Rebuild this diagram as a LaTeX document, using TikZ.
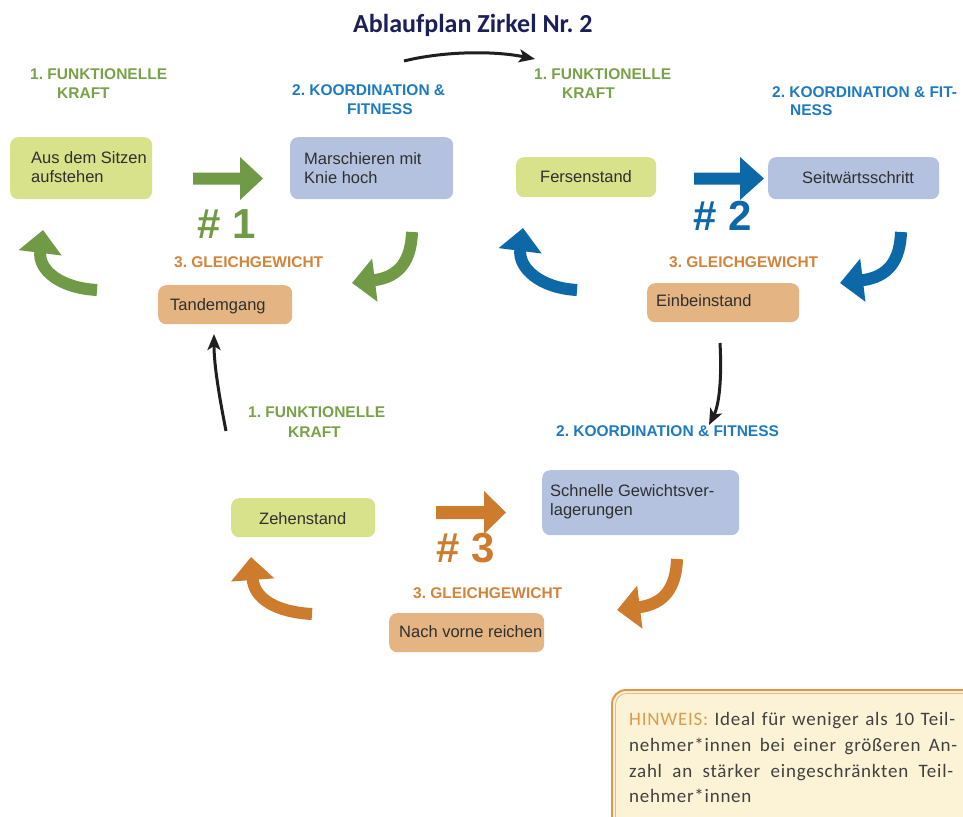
\documentclass[tikz,border=0pt]{standalone}
\usepackage{fontspec}
\setmainfont{Liberation Sans}
\newfontfamily\calibri{Carlito}
\newfontfamily\calibrisp[LetterSpace=4]{Carlito}
\usetikzlibrary{arrows.meta}
\frenchspacing
\definecolor{gbox}{HTML}{D8E28A}
\definecolor{bbox}{HTML}{B4C2DF}
\definecolor{tbox}{HTML}{E4B583}
\definecolor{garrow}{HTML}{709A46}
\definecolor{barrow}{HTML}{0D68A8}
\definecolor{oarrow}{HTML}{CD7C2E}
\definecolor{glabel}{HTML}{78A247}
\definecolor{blabel}{HTML}{1E7BC0}
\definecolor{olabel}{HTML}{D3843A}
\definecolor{navy}{HTML}{1B2058}
\definecolor{boxtext}{HTML}{2F2F2F}
\definecolor{hintfill}{HTML}{FCF3D6}
\definecolor{hintline}{HTML}{DB9A50}
\definecolor{hinttext}{HTML}{404040}
\tikzset{
 box/.style={rounded corners=8pt, inner sep=0pt, anchor=north west},
 boxtxt/.style={anchor=base west, inner sep=0pt, text=boxtext, font=\fontsize{16.5}{20}\selectfont},
 lbl/.style={anchor=base west, inner sep=0pt, font=\bfseries\fontsize{15.5}{19}\selectfont},
 num/.style={anchor=base west, inner sep=0pt, font=\bfseries\fontsize{42}{48}\selectfont},
 curvearrow/.style={line width=12pt, -{Triangle[width=42pt,length=23pt]}},
 blackarrow/.style={line width=3pt, draw=black!88, -{Stealth[length=16pt,width=13pt,inset=4pt]}},
 hinttxt/.style={anchor=base west, inner sep=0pt, text=hinttext, font=\calibrisp\fontsize{19}{26}\selectfont},
}
\begin{document}
\frenchspacing
\begin{tikzpicture}[x=1pt,y=-1pt]
\useasboundingbox (0,0) rectangle (963,816);
\fill[white] (0,0) rectangle (963,816);

% title
\node[anchor=base west, inner sep=0pt, text=navy, font=\calibri\bfseries\fontsize{26}{30}\selectfont] (title) at (353,33) {Ablaufplan Zirkel Nr. 2};
\coordinate (ts) at (404,61);
\coordinate (te) at (535,59);
\draw[blackarrow] (ts) .. controls (440,52) and (490,50) .. (te);

% ---------- cluster 1 ----------
\node[lbl, text=glabel] (l1a) at (30,79) {1. FUNKTIONELLE};
\node[lbl, text=glabel] (l1b) at (57,98) {KRAFT};
\node[lbl, text=blabel] (l1c) at (292,95) {2. KOORDINATION \&};
\node[lbl, text=blabel] (l1d) at (347,114) {FITNESS};
\node[lbl, text=olabel] (l1e) at (174,267) {3. GLEICHGEWICHT};
\node[num, text=garrow] (n1) at (197,238) {\# 1};

\node[box, fill=gbox, minimum width=142pt, minimum height=62pt] (b1) at (10,137) {};
\node[boxtxt] (t1a) at (31,163) {Aus dem Sitzen};
\node[boxtxt] (t1b) at (31,182) {aufstehen};
\node[box, fill=bbox, minimum width=163pt, minimum height=62pt] (b2) at (290,137) {};
\node[boxtxt] (t2a) at (304,164) {Marschieren mit};
\node[boxtxt] (t2b) at (304,183) {Knie hoch};
\node[box, fill=tbox, minimum width=134pt, minimum height=39pt] (b3) at (158,285) {};
\node[boxtxt] (t3) at (170,310) {Tandemgang};

\fill[garrow] (193,172.5) -- (240,172.5) -- (240,157) -- (263,178.5) -- (240,200) -- (240,184.5) -- (193,184.5) -- cycle;
\draw[curvearrow, draw=garrow] (412,232) .. controls (411,260) and (400,277) .. (352,283);
\draw[curvearrow, draw=garrow] (97,290) .. controls (60,288) and (38,270) .. (43,230);

% ---------- cluster 2 ----------
\node[lbl, text=glabel] (l2a) at (534,79) {1. FUNKTIONELLE};
\node[lbl, text=glabel] (l2b) at (562,98) {KRAFT};
\node[lbl, text=blabel] (l2c) at (772,97) {2. KOORDINATION \& FIT-};
\node[lbl, text=blabel] (l2d) at (790,115) {NESS};
\node[lbl, text=olabel] (l2e) at (669,267) {3. GLEICHGEWICHT};
\node[num, text=barrow] (n2) at (693,230) {\# 2};

\node[box, fill=gbox, minimum width=140pt, minimum height=40pt] (b4) at (516,157) {};
\node[boxtxt] (t4) at (540,182) {Fersenstand};
\node[box, fill=bbox, minimum width=171pt, minimum height=42pt] (b5) at (768,157) {};
\node[boxtxt] (t5) at (802,183) {Seitwärtsschritt};
\node[box, fill=tbox, minimum width=152pt, minimum height=39pt] (b6) at (647,283) {};
\node[boxtxt] (t6) at (656,306) {Einbeinstand};

\fill[barrow] (694,172.5) -- (740,172.5) -- (740,157) -- (764,178.5) -- (740,200) -- (740,184.5) -- (694,184.5) -- cycle;
\draw[curvearrow, draw=barrow] (901,232) .. controls (900,260) and (889,277) .. (840,283);
\draw[curvearrow, draw=barrow] (577,290) .. controls (540,288) and (518,268) .. (523,228);

% ---------- cluster 3 ----------
\node[lbl, text=glabel] (l3a) at (248,417) {1. FUNKTIONELLE};
\node[lbl, text=glabel] (l3b) at (288,437) {KRAFT};
\node[lbl, text=blabel] (l3c) at (556,436) {2. KOORDINATION \& FITNESS};
\node[lbl, text=olabel] (l3e) at (413,598) {3. GLEICHGEWICHT};
\node[num, text=oarrow] (n3) at (436,562) {\# 3};

\node[box, fill=gbox, minimum width=144pt, minimum height=39pt] (b7) at (231,498) {};
\node[boxtxt] (t7) at (259,524) {Zehenstand};
\node[box, fill=bbox, minimum width=197pt, minimum height=65pt] (b8) at (542,470) {};
\node[boxtxt] (t8a) at (550,496) {Schnelle Gewichtsver-};
\node[boxtxt] (t8b) at (550,515) {lagerungen};
\node[box, fill=tbox, minimum width=155pt, minimum height=39pt] (b9) at (389,613) {};
\node[boxtxt] (t9) at (399,637) {Nach vorne reichen};

\fill[oarrow] (436,506) -- (484,506) -- (484,491) -- (506,512.5) -- (484,534) -- (484,519) -- (436,519) -- cycle;
\draw[curvearrow, draw=oarrow] (677,559) .. controls (676,587) and (665,604) .. (617,610);
\draw[curvearrow, draw=oarrow] (312,614) .. controls (275,612) and (254,598) .. (251,557);

% black connectors between clusters
\coordinate (u1) at (226,431);
\coordinate (u2) at (214,334);
\draw[blackarrow] (u1) .. controls (219,395) and (214,365) .. (u2);
\coordinate (d1) at (720,343);
\coordinate (d2) at (709,425);
\draw[blackarrow] (d1) .. controls (722,380) and (719,405) .. (d2);

% hint box
\begin{scope}
\clip (0,0) rectangle (963,816);
\draw[hintline, line width=2pt, fill=hintfill, rounded corners=14pt] (612,690) rectangle (1000,870);
\draw[hintline!70, line width=0.8pt, rounded corners=11pt] (615.5,693.5) rectangle (1000,870);
\end{scope}
\node[hinttxt] (h1) at (629,725) {\makebox[326pt][s]{\textcolor{hintline}{HINWEIS:} Ideal für weniger als 10 Teil-}};
\node[hinttxt] (h2) at (629,751) {\makebox[328pt][s]{nehmer*innen bei einer größeren An-}};
\node[hinttxt] (h3) at (629,777) {\makebox[324pt][s]{zahl an stärker eingeschränkten Teil-}};
\node[hinttxt] (h4) at (629,802) {nehmer*innen};
\end{tikzpicture}
\end{document}
